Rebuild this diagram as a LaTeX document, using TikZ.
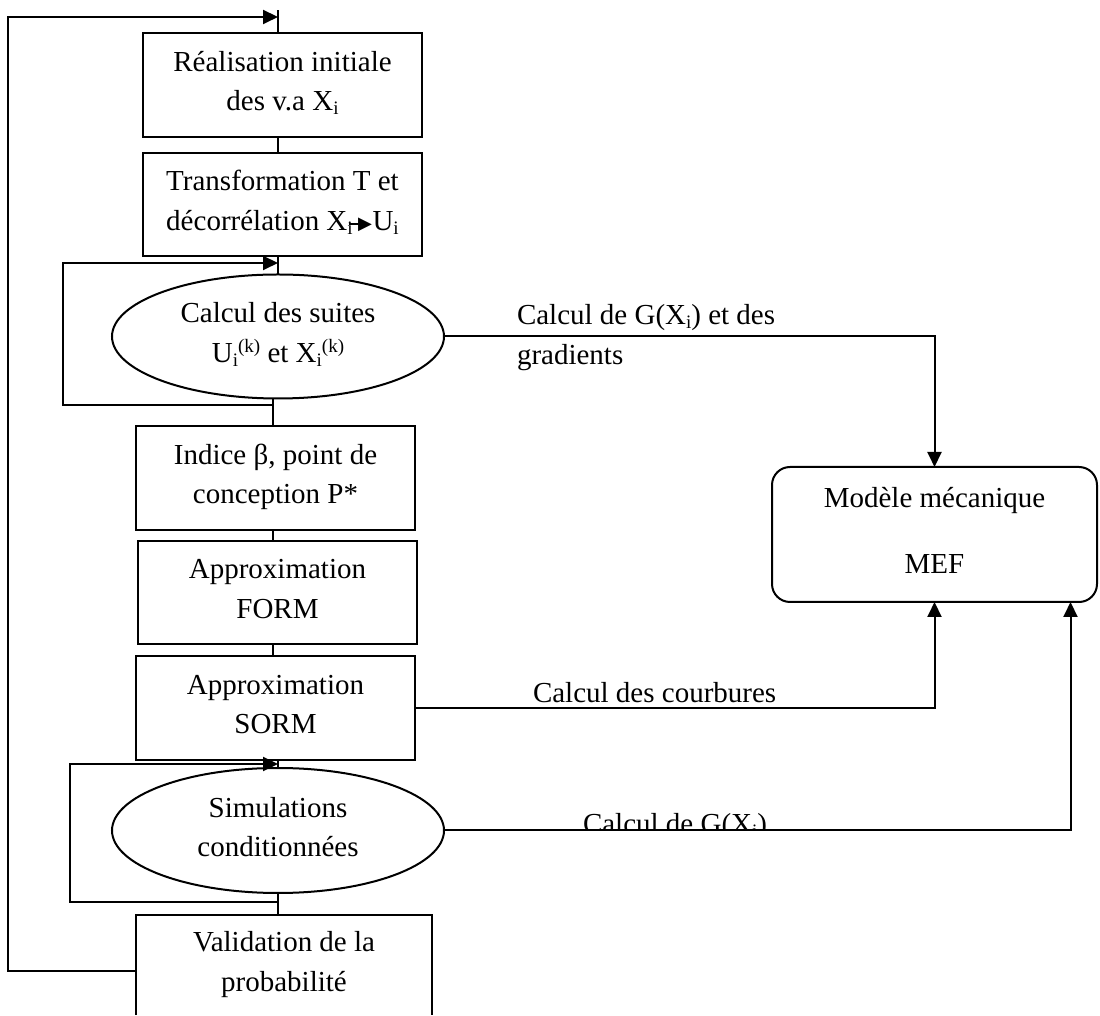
\documentclass[tikz,border=0pt]{standalone}
\usepackage{fontspec}
\setmainfont{Liberation Serif}
\newfontfamily\symfont{DejaVu Sans}
\usetikzlibrary{arrows.meta,shapes.geometric,calc}

% text size and line struts used in every box
\newcommand\txtfont{\fontsize{29pt}{39.5pt}\selectfont}
\newcommand\lnstrut{\rule[-13.5pt]{0pt}{39.5pt}}
\newcommand\subtxt[1]{\raisebox{-4pt}{\fontsize{19pt}{19pt}\selectfont #1}}
\newcommand\suptxt[1]{\raisebox{10pt}{\fontsize{19pt}{19pt}\selectfont #1}}
% small inline arrow between X_i and U_i
\newcommand\maparrow{\kern-4pt\rule[5.6pt]{11pt}{1.6pt}\kern-1.5pt\raisebox{0.5pt}{\symfont\fontsize{18pt}{18pt}\selectfont ▶}\kern0.5pt}

\begin{document}
\begin{tikzpicture}[x=1pt,y=-1pt,shift={(0pt,1015pt)},
  stepbox/.style={draw, rectangle, line width=2pt, minimum width=279pt, minimum height=104pt,
    inner sep=0pt, outer sep=0pt, align=center, font=\txtfont},
  loopoval/.style={draw, ellipse, line width=2pt, minimum width=332pt, minimum height=124pt,
    inner sep=0pt, outer sep=0pt, align=center, font=\txtfont},
  modelbox/.style={draw, rectangle, rounded corners=18pt, line width=2pt, minimum width=325pt,
    minimum height=135pt, inner sep=0pt, outer sep=0pt, align=center, font=\txtfont},
  link/.style={line width=2pt},
  flow/.style={line width=2pt, -{Triangle[length=15pt,width=14pt]}},
  lbl/.style={inner sep=0pt, outer sep=0pt, font=\txtfont, align=left}]

\useasboundingbox (0,0) rectangle (1100,1015);
\fill[white] (0,0) rectangle (1100,1015);
\clip (0,0) rectangle (1100,1015);

% main chain of steps
\node[stepbox] (b1) at (282.5,85) {\lnstrut Réalisation initiale\\\lnstrut des v.a X\subtxt{i}};
\node[stepbox, minimum height=103pt] (b2) at (282.5,204.5)
  {\lnstrut Transformation T et\\\lnstrut décorrélation X\subtxt{i}\maparrow U\subtxt{i}};
\node[loopoval] (e1) at (278,336.5)
  {\lnstrut Calcul des suites\\\lnstrut U\subtxt{i}\suptxt{(k)} et X\subtxt{i}\suptxt{(k)}};
\node[stepbox] (b3) at (275.5,478) {\lnstrut Indice β, point de\\\lnstrut conception P*};
\node[stepbox, minimum height=103pt] (b4) at (277.5,592.5) {\lnstrut Approximation\\\lnstrut FORM};
\node[stepbox] (b5) at (275.5,708) {\lnstrut Approximation\\\lnstrut SORM};
\node[loopoval, minimum height=125pt] (e2) at (278,830.5) {\lnstrut Simulations\\\lnstrut conditionnées};
\node[stepbox, draw=none, minimum width=296pt, minimum height=100pt] (b6) at (284,965)
  {\lnstrut Validation de la\\\lnstrut probabilité};
\draw[link] (b6.south west) -- (b6.north west) -- (b6.north east) -- (b6.south east);

% mechanical model
\node[modelbox] (m) at (934.5,534.5) {\lnstrut Modèle mécanique\\[26.5pt]\lnstrut MEF};
\coordinate (mr) at ([xshift=136pt]m.south);

% links along the chain
\coordinate (c3) at (273,405);
\draw[link] (b1.south -| e1.north) -- (b2.north -| e1.north);
\draw[link] (b2.south -| e1.north) -- (e1.north);
\draw[link] (e1.south -| c3) -- (b3.north -| c3);
\draw[link] (b3.south -| c3) -- (b4.north -| c3);
\draw[link] (b4.south -| c3) -- (b5.north -| c3);
\draw[link] (b5.south -| e2.north) -- (e2.north);
\draw[link] (e2.south) -- (b6.north -| e2.south);

% iteration loop of the sequences
\coordinate (l1a) at (63,405);
\coordinate (l1b) at (63,263);
\draw[flow] (c3) -- (l1a) -- (l1b) -- (e1.north |- l1b);

% loop of the conditioned simulations
\coordinate (l2a) at (70,902);
\coordinate (l2b) at (70,764);
\draw[flow] (e2.south |- l2a) -- (l2a) -- (l2b) -- (e2.north |- l2b);

% outer loop back to the start
\coordinate (o1) at (8,971);
\coordinate (o2) at (8,17);
\draw[flow] (b6.west |- o1) -- (o1) -- (o2) -- (e1.north |- o2);
\draw[link] (b1.north -| e1.north) -- ++(0,-23);

% calls to the mechanical model
\draw[flow] (e1.east) -- (e1.east -| m.north) -- (m.north);
\draw[flow] (b5.east) -- (b5.east -| m.south) -- (m.south);
\draw[flow] (e2.east) -- (e2.east -| mr) -- (mr);

% labels of the calls
\node[lbl, anchor=north west] (t1) at (517,299)
  {\lnstrut Calcul de G(X\subtxt{i}) et des\\\lnstrut gradients};
\node[lbl, anchor=base west] (t2) at (533,703) {Calcul des courbures};
\begin{scope}
  \clip (560,780) rectangle (900,830);
  \node[lbl, anchor=base west] (t3) at (583,833) {Calcul de G(X\subtxt{i})};
\end{scope}
\end{tikzpicture}
\end{document}
